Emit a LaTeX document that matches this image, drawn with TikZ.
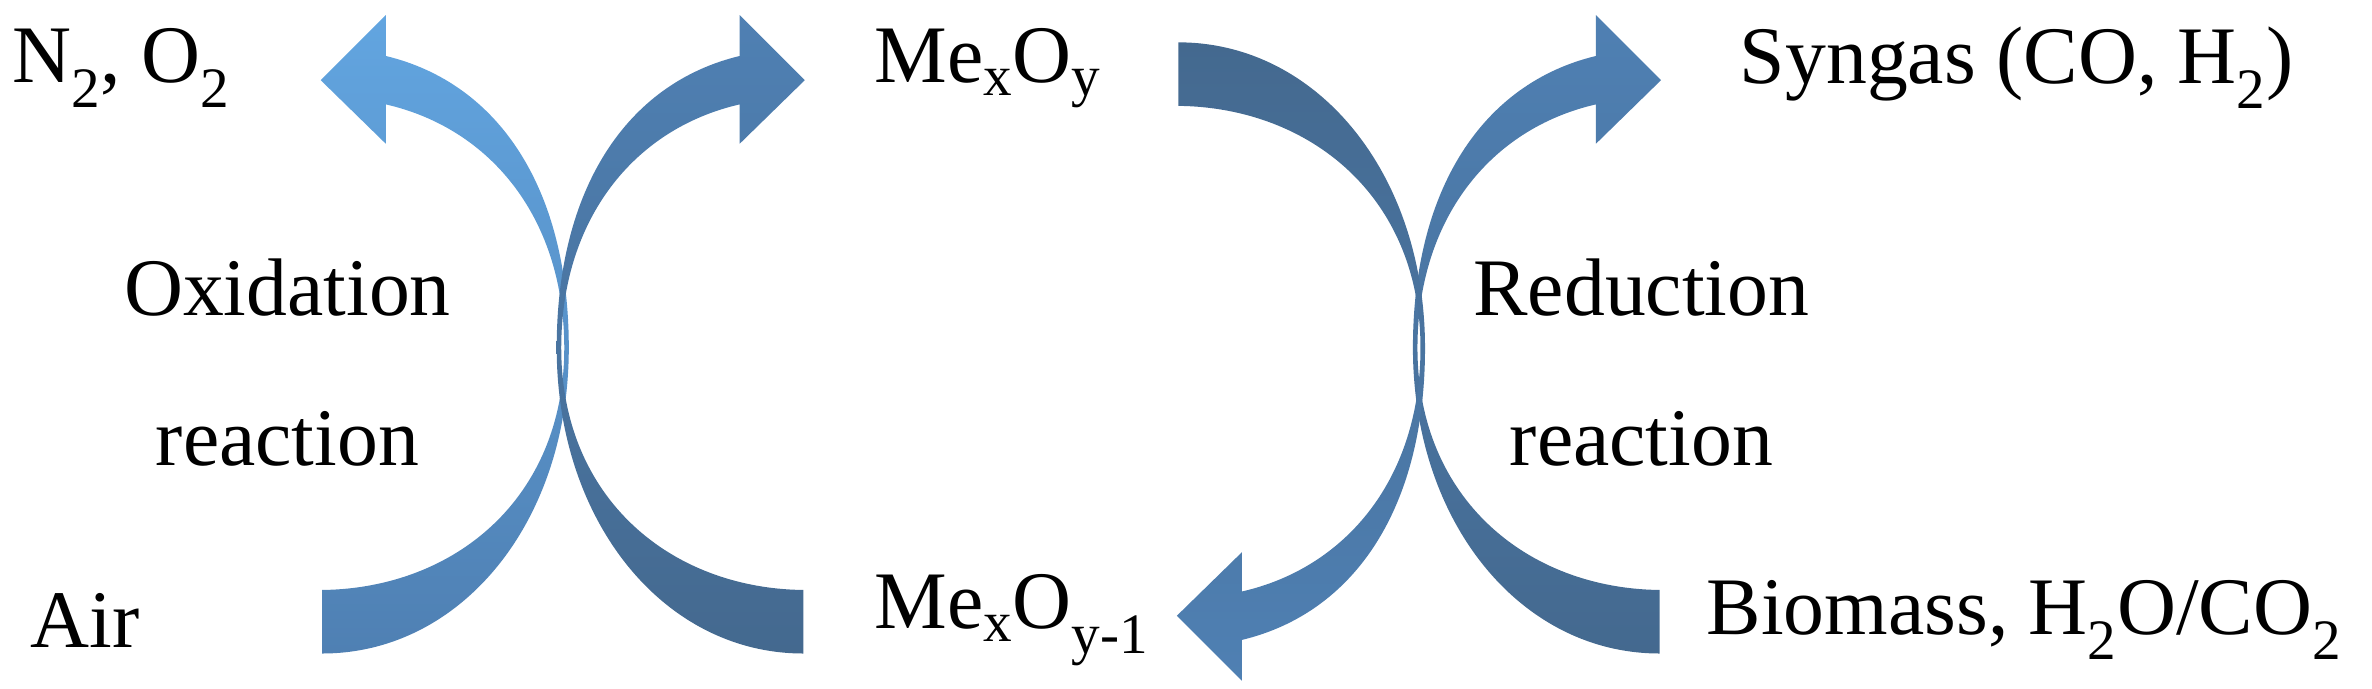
\documentclass[tikz,border=0pt]{standalone}
\usepackage{fontspec}
\setmainfont{Liberation Serif}
\begin{document}
\begin{tikzpicture}[x=1pt,y=1pt,
  lbl/.style={inner sep=0pt,font=\fontsize{54}{60}\selectfont}]
\definecolor{cLight}{HTML}{62A5E0}
\definecolor{cMid}{HTML}{4F80B3}
\definecolor{cDark}{HTML}{44698F}
\useasboundingbox (0,0) rectangle (1568,455);
\newcommand\crescentpath{(213,23) .. controls (305,23) and (376,110) .. (376,225)
  .. controls (376,330) and (330,400) .. (255,418) -- (255,445) -- (212,402) -- (255,360) -- (255,386)
  .. controls (325,370) and (373,310) .. (373,225) .. controls (373,125) and (300,66) .. (213,65) -- cycle}
% left X
\shade[top color=cLight,bottom color=cMid] \crescentpath;
\begin{scope}[xshift=744pt,xscale=-1]
\shade[top color=cMid,bottom color=cDark] \crescentpath;
\end{scope}
% right X
\begin{scope}[xshift=1310pt,xscale=-1]
\shade[top color=cMid,bottom color=cDark] \crescentpath;
\end{scope}
\begin{scope}[xshift=566pt,yshift=450pt,yscale=-1]
\shade[top color=cDark,bottom color=cMid] \crescentpath;
\end{scope}
% labels
\node[lbl,anchor=west] (n2o2) at (8,410) {N\textsubscript{2}, O\textsubscript{2}};
\node[lbl,anchor=west] (air) at (20,45) {Air};
\node[lbl] (ox) at (190,265) {Oxidation};
\node[lbl] (oxr) at (190,165) {reaction};
\node[lbl,anchor=west] (mo) at (578,410) {Me\textsubscript{x}O\textsubscript{y}};
\node[lbl,anchor=west] (mo1) at (578,45) {Me\textsubscript{x}O\textsubscript{y-1}};
\node[lbl] (red) at (1085,265) {Reduction};
\node[lbl] (redr) at (1085,165) {reaction};
\node[lbl,anchor=west] (syn) at (1150,410) {Syngas (CO, H\textsubscript{2})};
\node[lbl,anchor=west] (bio) at (1128,45) {Biomass, H\textsubscript{2}O/CO\textsubscript{2}};
\end{tikzpicture}
\end{document}
